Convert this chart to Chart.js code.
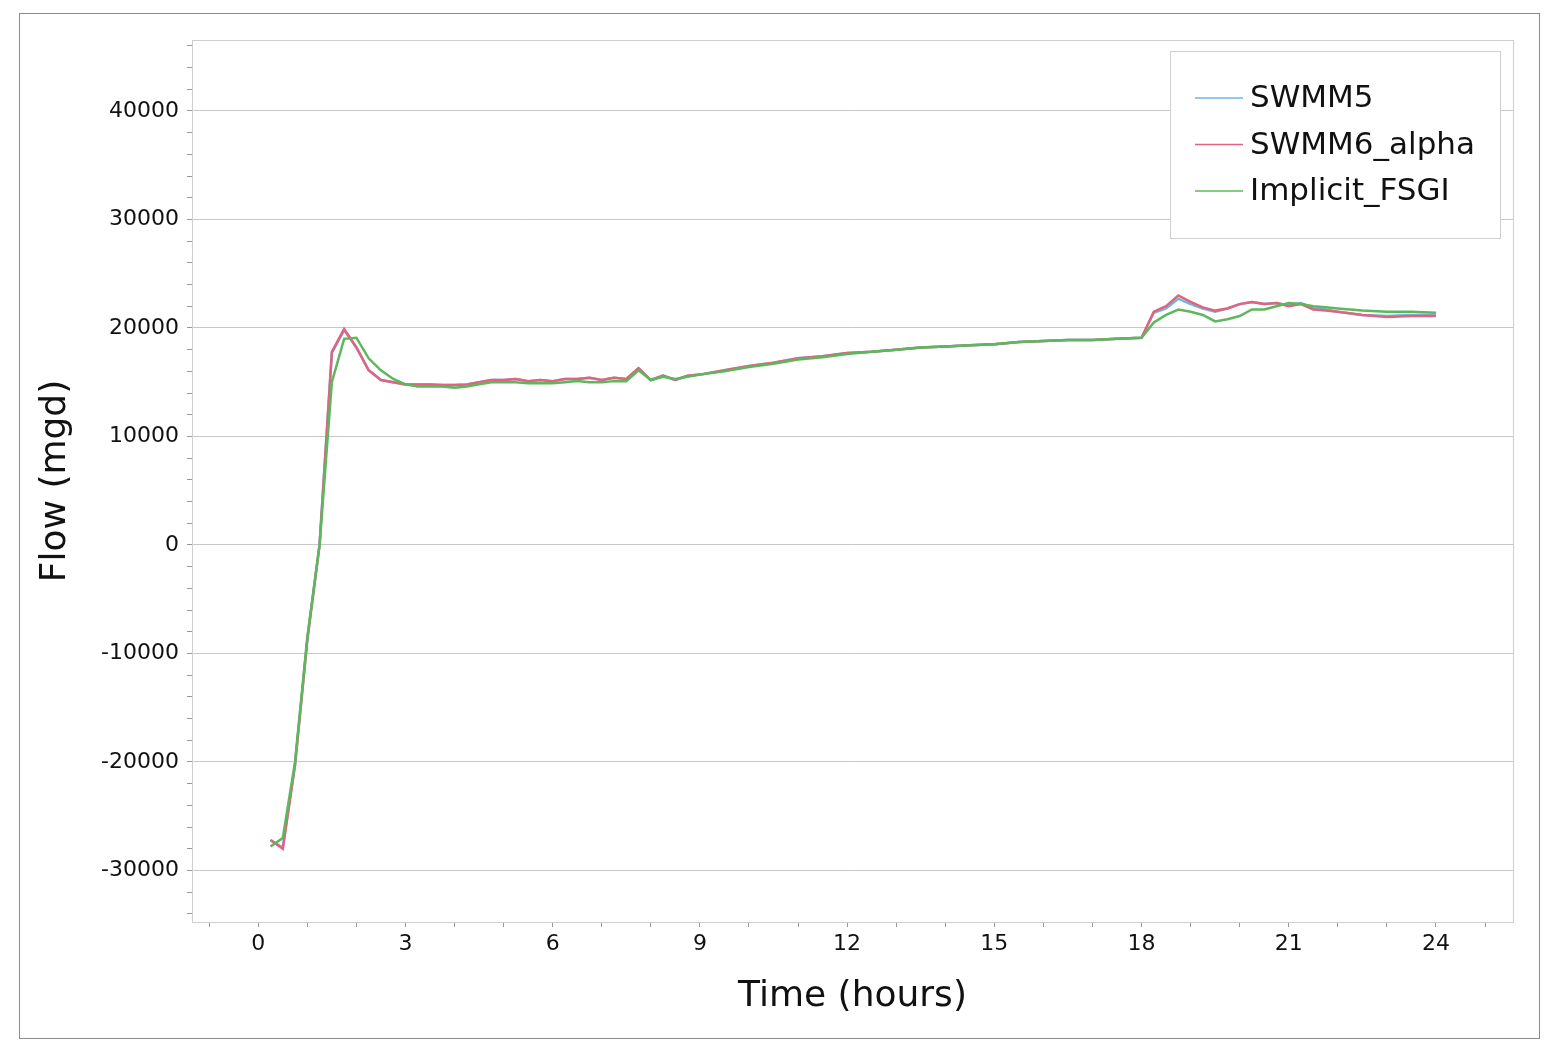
<!DOCTYPE html>
<html>
<head>
<meta charset="utf-8">
<script src="https://cdn.jsdelivr.net/npm/chart.js@4"></script>
<style>
  html, body { margin: 0; padding: 0; background: #fff; }
  #wrap { width: 1556px; height: 1046px; }
</style>
</head>
<body>
<div id="wrap"><canvas id="flowChart" width="1556" height="1046"></canvas></div>
<script>
const hours = [0.25,0.5,0.75,1,1.25,1.5,1.75,2,2.25,2.5,2.75,3,3.25,3.5,3.75,4,4.25,4.5,4.75,5,5.25,5.5,5.75,6,6.25,6.5,6.75,7,7.25,7.5,7.75,8,8.25,8.5,8.75,9,9.5,10,10.5,11,11.5,12,12.5,13,13.5,14,14.5,15,15.5,16,16.5,17,17.5,18,18.25,18.5,18.75,19,19.25,19.5,19.75,20,20.25,20.5,20.75,21,21.25,21.5,21.75,22,22.5,23,23.5,24];

const swmm6 = [-27200,-28000,-20300,-8800,0,17800,19900,18200,16100,15200,15000,14800,14800,14800,14750,14750,14800,15000,15200,15200,15300,15100,15200,15100,15300,15300,15400,15200,15400,15300,16300,15200,15600,15200,15600,15700,16100,16500,16800,17200,17400,17700,17800,18000,18200,18300,18400,18500,18700,18800,18900,18900,19000,19100,21500,22000,23000,22400,21900,21600,21800,22200,22400,22200,22300,22000,22200,21700,21600,21500,21200,21000,21100,21100];

const swmm5 = [-27200,-27900,-20200,-8700,100,17700,19800,18200,16100,15200,15000,14800,14800,14800,14750,14750,14800,15000,15200,15200,15300,15100,15200,15100,15300,15300,15400,15200,15400,15300,16300,15200,15600,15200,15600,15700,16100,16500,16800,17200,17400,17700,17800,18000,18200,18300,18400,18500,18700,18800,18900,18900,19000,19100,21400,21800,22700,22200,21800,21500,21800,22200,22400,22200,22300,22100,22300,21800,21700,21500,21200,21100,21200,21200];

const fsgi = [-27800,-27000,-20000,-8500,0,15000,19000,19100,17200,16100,15300,14800,14600,14600,14600,14500,14600,14800,15000,15000,15000,14900,14900,14900,15000,15100,15000,15000,15100,15100,16100,15200,15500,15300,15500,15700,16000,16400,16700,17100,17300,17600,17800,18000,18200,18300,18400,18500,18700,18800,18900,18900,19000,19100,20500,21200,21700,21500,21200,20600,20800,21100,21700,21700,22000,22300,22200,22000,21900,21800,21600,21500,21500,21400];

const seriesNames = ['SWMM5', 'SWMM6_alpha', 'Implicit_FSGI'];
const seriesColors = ['#6fb6e2', '#e0647e', '#5cb85c'];
const yTickLabels = [-30000, -20000, -10000, 0, 10000, 20000, 30000, 40000];
const xTickLabels = [0, 3, 6, 9, 12, 15, 18, 21, 24];

function toPoints(values) {
    return hours.map((h, i) => ({ x: h, y: values[i] }));
}

const FONT = '"DejaVu Sans", Verdana, sans-serif';

const framePlugin = {
    id: 'frame',
    afterDraw(chart) {
        const c = chart.ctx;
        const a = chart.chartArea;
        c.save();
        c.strokeStyle = '#8a8a8a';
        c.lineWidth = 1;
        c.strokeRect(19.5, 13.5, 1520, 1025);
        c.strokeStyle = '#cfcfcf';
        c.strokeRect(a.left + 0.5, a.top + 0.5, a.right - a.left, a.bottom - a.top);

        // legend box
        c.fillStyle = '#fff';
        c.fillRect(1170, 51, 330, 187);
        c.strokeStyle = '#cfcfcf';
        c.strokeRect(1170.5, 51.5, 330, 187);
        c.font = '31px ' + FONT;
        c.textBaseline = 'middle';
        seriesNames.forEach((name, i) => {
            const y = 98 + i * 46.5;
            c.strokeStyle = seriesColors[i];
            c.lineWidth = 1.5;
            c.beginPath();
            c.moveTo(1195, y);
            c.lineTo(1243, y);
            c.stroke();
            c.fillStyle = '#111';
            c.fillText(name, 1250, y + 1);
        });
        c.restore();
    }
};

new Chart(document.getElementById('flowChart'), {
    type: 'line',
    data: {
        datasets: [swmm5, swmm6, fsgi].map((vals, i) => ({
            label: seriesNames[i],
            data: toPoints(vals),
            borderColor: seriesColors[i],
            borderWidth: 2.5,
            pointRadius: 0,
            tension: 0,
            order: 3 - i
        }))
    },
    options: {
        responsive: false,
        animation: false,
        layout: { padding: { left: 30, top: 40, right: 43, bottom: 24 } },
        plugins: { legend: { display: false }, tooltip: { enabled: false } },
        scales: {
            x: {
                type: 'linear',
                min: -1.35,
                max: 25.57,
                afterBuildTicks(scale) {
                    const t = [];
                    for (let h = -1; h <= 25; h++) t.push({ value: h });
                    scale.ticks = t;
                },
                afterFit(scale) { scale.height = 100; },
                ticks: {
                    autoSkip: false,
                    maxRotation: 0,
                    color: '#111',
                    font: { family: FONT, size: 22 },
                    padding: 4,
                    callback: v => xTickLabels.includes(v) ? String(v) : ''
                },
                grid: {
                    drawOnChartArea: false,
                    tickLength: 5,
                    tickColor: '#999'
                },
                border: { display: false },
                title: {
                    display: true,
                    text: 'Time (hours)',
                    color: '#111',
                    font: { family: FONT, size: 36 },
                    padding: { top: 6 }
                }
            },
            y: {
                min: -34750,
                max: 46540,
                afterBuildTicks(scale) {
                    const t = [];
                    for (let v = -34000; v <= 46000; v += 2000) t.push({ value: v });
                    scale.ticks = t;
                },
                afterFit(scale) { scale.width = 162; },
                ticks: {
                    autoSkip: false,
                    color: '#111',
                    font: { family: FONT, size: 22 },
                    padding: 8,
                    callback: v => yTickLabels.includes(v) ? String(v) : ''
                },
                grid: {
                    color: ctx => (ctx.tick && yTickLabels.includes(ctx.tick.value)) ? '#c8c8c8' : 'rgba(0,0,0,0)',
                    tickLength: 5,
                    tickColor: '#999'
                },
                border: { display: false },
                title: {
                    display: true,
                    text: 'Flow (mgd)',
                    color: '#111',
                    font: { family: FONT, size: 36 },
                    padding: { bottom: 10 }
                }
            }
        }
    },
    plugins: [framePlugin]
});
</script>
</body>
</html>
